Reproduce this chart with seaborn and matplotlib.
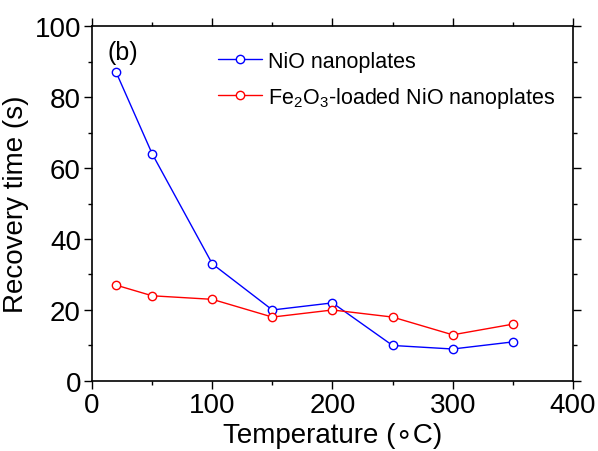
import pandas as pd
import numpy as np
import matplotlib
matplotlib.use('Agg')
import matplotlib.pyplot as plt
import seaborn as sns

temperature = [20, 50, 100, 150, 200, 250, 300, 350]
nio_time = [87, 64, 33, 20, 22, 10, 9, 11]
fe_nio_time = [27, 24, 23, 18, 20, 18, 13, 16]
series_names = ['NiO nanoplates', 'Fe$_2$O$_3$-loaded NiO nanoplates']
series_colors = ['#0000FF', '#FF0000']

df = pd.DataFrame({
    'Temperature': temperature * 2,
    'Time': nio_time + fe_nio_time,
    'Sample': [series_names[0]] * len(temperature) + [series_names[1]] * len(temperature),
})

sns.set_style('ticks')
plt.rcParams['font.family'] = ['Liberation Sans', 'DejaVu Sans']
plt.rcParams['mathtext.fontset'] = 'custom'
plt.rcParams['mathtext.rm'] = 'Liberation Sans'
plt.rcParams['mathtext.it'] = 'Liberation Sans'
plt.rcParams['mathtext.default'] = 'regular'
for k in ['text.color', 'axes.labelcolor', 'xtick.color', 'ytick.color']:
    plt.rcParams[k] = 'black'

fig = plt.figure(figsize=(5.98, 4.52), dpi=100)
ax = fig.add_axes([0.154, 0.155, 0.804, 0.785])

sns.lineplot(data=df, x='Temperature', y='Time', hue='Sample', palette=series_colors,
             marker='o', markersize=6, markerfacecolor='white', markeredgewidth=1,
             linewidth=1, ax=ax, legend=False)
for line, c in zip(ax.lines, series_colors):
    line.set_markeredgecolor(c)

ax.set_xlim(0, 400)
ax.set_ylim(0, 100)
ax.set_xticks([0, 100, 200, 300, 400])
ax.set_yticks([0, 20, 40, 60, 80, 100])
ax.set_xticks(np.arange(50, 400, 100), minor=True)
ax.set_yticks(np.arange(10, 100, 20), minor=True)
ax.tick_params(which='major', direction='out', length=6, width=1, labelsize=20,
               top=True, right=True, pad=2)
ax.tick_params(which='minor', direction='out', length=3, width=1, top=True, right=True)
for s in ax.spines.values():
    s.set_linewidth(1.2)
    s.set_color('black')

ax.set_xlabel('Temperature (\u2218C)', fontsize=20, labelpad=3)
ax.set_ylabel('Recovery time (s)', fontsize=20, labelpad=4)
ax.text(0.033, 0.96, '(b)', transform=ax.transAxes, fontsize=18, va='top', ha='left')

leg = ax.legend(handles=ax.lines[:2], labels=series_names, loc='upper left',
                bbox_to_anchor=(0.245, 0.955), frameon=False, fontsize=15.5,
                handlelength=2.0, handletextpad=0.3, labelspacing=0.6, borderaxespad=0)

fig.savefig('out.png', dpi=100)
